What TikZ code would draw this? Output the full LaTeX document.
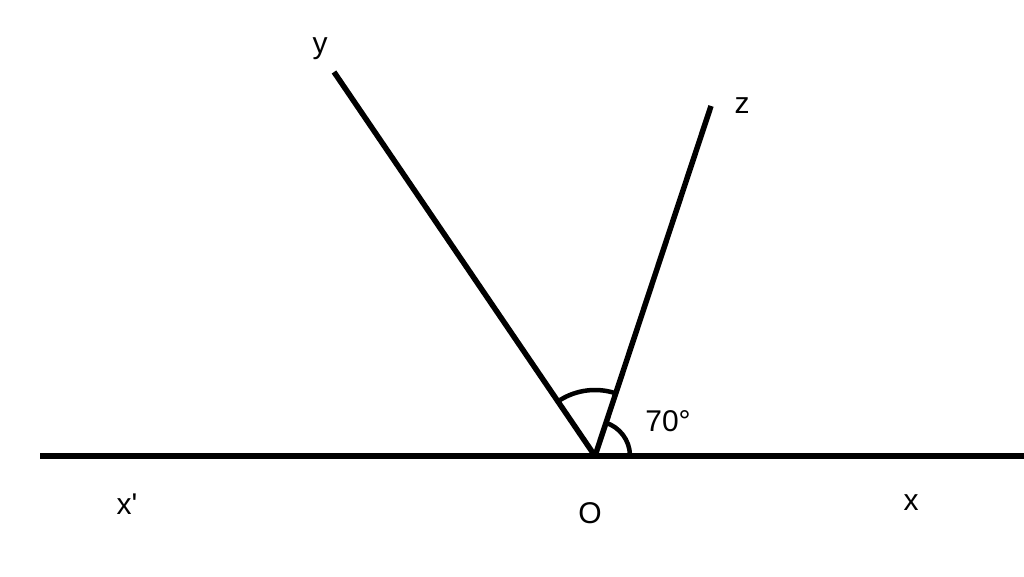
\documentclass[tikz,border=0pt]{standalone}
\usepackage{fontspec}
\setmainfont{Liberation Sans}
\begin{document}
\begin{tikzpicture}[x=1pt,y=1pt,
  ray/.style={line width=5.5pt,black},
  arcmark/.style={line width=4.5pt,black},
  lbl/.style={font=\fontsize{30}{34}\selectfont,inner sep=0pt}]
\useasboundingbox (0,0) rectangle (1024,576);
\coordinate (O) at (595,120);
\coordinate (Xp) at (40,120);
\coordinate (X) at (1024,120);
\coordinate (Y) at (334,504);
\coordinate (Z) at (711,470);
\draw[ray] (Xp) -- (X);
\draw[ray] (O) -- (Y);
\draw[ray] (O) -- (Z);
\draw[arcmark] ([shift={(122:66)}]O) arc[start angle=122,end angle=72,radius=66];
\draw[arcmark] ([shift={(72:35)}]O) arc[start angle=72,end angle=2,radius=35];
\node[lbl] (ly) at (320,527) {y};
\node[lbl] (lz) at (742,470) {z};
\node[lbl] (lxp) at (127,72) {x\textquotesingle};
\node[lbl] (lo) at (590,63) {O};
\node[lbl] (lx) at (911,73) {x};
\node[lbl] (la) at (668,155) {70°};
\end{tikzpicture}
\end{document}
